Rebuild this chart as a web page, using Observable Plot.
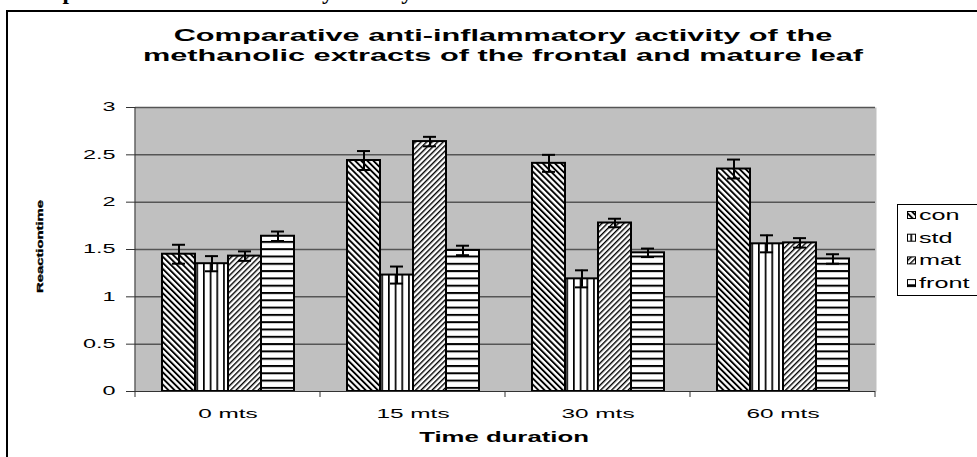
<!DOCTYPE html>
<html><head><meta charset="utf-8">
<script src="https://cdn.jsdelivr.net/npm/d3@7"></script>
<script src="https://cdn.jsdelivr.net/npm/@observablehq/plot@0.6"></script>
<style>
html,body{margin:0;padding:0;background:#fff;}
#wrap{position:relative;width:977px;height:457px;overflow:hidden;font-family:Arial,"Liberation Sans",sans-serif;}
#wrap > svg{position:absolute;left:0;top:0;}
#overlay{pointer-events:none;}
</style></head><body><div id="wrap"></div>
<script>
// ---- data ----
const times = ["0 mts", "15 mts", "30 mts", "60 mts"];
const series = ["con", "std", "mat", "front"];
const con = [1.45, 2.44, 2.41, 2.35];
const std = [1.35, 1.23, 1.19, 1.56];
const mat = [1.43, 2.64, 1.78, 1.57];
const front = [1.64, 1.49, 1.465, 1.40];
const conErr = [0.10, 0.10, 0.09, 0.10];
const stdErr = [0.08, 0.09, 0.09, 0.09];
const matErr = [0.05, 0.05, 0.045, 0.05];
const frontErr = [0.05, 0.05, 0.045, 0.05];
const yTicks = [0, 0.5, 1, 1.5, 2, 2.5, 3];
const titleLines = ["Comparative anti-inflammatory activity of the", "methanolic extracts of the frontal and mature leaf"];
const topCaption = "Fig. 1: Comparative anti-inflammatory activity of the methanolic extracts of the frontal and mature leaf";
const yLabel = "Reactiontime";
const xLabel = "Time duration";

const values = {con, std, mat, front};
const errors = {con: conErr, std: stdErr, mat: matErr, front: frontErr};
const data = [];
times.forEach((t, i) => series.forEach(s => data.push({time: t, series: s, value: values[s][i], err: errors[s][i]})));

const SX = 1.95; // horizontal stretch of the reference's text
const FONT = "Arial, 'Liberation Sans', sans-serif";

const plot = Plot.plot({
  width: 977, height: 457,
  marginLeft: 133, marginRight: 101, marginTop: 107, marginBottom: 66,
  style: {background: "transparent", fontFamily: FONT, color: "#000", overflow: "visible"},
  fx: {domain: times, padding: 0, label: null, axis: null},
  x: {domain: series, paddingInner: 0, paddingOuter: 0.78, axis: null},
  y: {domain: [0, 3], axis: null},
  color: {domain: series, range: series.map(s => `url(#pat-${s})`)},
  marks: [
    Plot.frame({fill: "#c0c0c0", stroke: "none", insetLeft: -1, insetRight: -1}),
    Plot.ruleY(yTicks.filter(d => d > 0), {stroke: "#555", strokeWidth: 1.5}),
    Plot.barY(data, {fx: "time", x: "series", y: "value", fill: "series", stroke: "#000", strokeWidth: 2}),
    Plot.ruleX(data, {fx: "time", x: "series", y1: d => d.value - d.err, y2: d => d.value + d.err, stroke: "#000", strokeWidth: 2}),
    Plot.tickY(data, {fx: "time", x: "series", y: d => d.value + d.err, stroke: "#000", strokeWidth: 2, insetLeft: 10, insetRight: 10}),
    Plot.tickY(data, {fx: "time", x: "series", y: d => d.value - d.err, stroke: "#000", strokeWidth: 2, insetLeft: 10, insetRight: 10}),
    Plot.ruleY([0], {stroke: "#333", strokeWidth: 1}),
    Plot.axisY({anchor: "left", ticks: yTicks, tickFormat: d3.format("~g"), tickSize: 9, tickPadding: 11, fontSize: 12, label: null, stroke: "#333"}),
    Plot.axisFx({anchor: "bottom", tickSize: 0, tickPadding: 18, fontSize: 12.5, label: null})
  ]
});
document.getElementById("wrap").appendChild(plot);

// patterns
const svg = d3.select(plot);
const defs = svg.insert("defs", ":first-child");
function stripe(id, angle, size, w) {
  const p = defs.append("pattern").attr("id", id).attr("patternUnits", "userSpaceOnUse")
    .attr("width", size).attr("height", size).attr("patternTransform", `rotate(${angle})`);
  p.append("rect").attr("width", size).attr("height", size).attr("fill", "#fff");
  p.append("rect").attr("x", 0).attr("y", 0).attr("width", w).attr("height", size).attr("fill", "#000");
}
stripe("pat-con", -45, 4.3, 1.9);
stripe("pat-std", 0, 6.7, 1.7);
stripe("pat-mat", 45, 3.9, 1.4);
stripe("pat-front", 90, 7.3, 2);

// stretch axis text horizontally like the reference
plot.querySelectorAll('g[aria-label="y-axis tick label"] text, g[aria-label="fx-axis tick label"] text').forEach(t => {
  let tr = t.getAttribute("transform");
  if (!tr) {
    const x = +t.getAttribute("x") || 0, y = +t.getAttribute("y") || 0;
    t.removeAttribute("x"); t.removeAttribute("y");
    tr = `translate(${x},${y})`;
  }
  t.setAttribute("transform", tr + ` scale(${SX},1)`);
});

// category boundary ticks and left axis line, from the library's scales
const fx = plot.scale("fx"), ys = plot.scale("y");
const y0 = ys.apply(0), y3 = ys.apply(3);
const edges = times.map(t => fx.apply(t)).concat([fx.apply(times[times.length - 1]) + fx.bandwidth]);
const g = svg.append("g");
edges.forEach(e => g.append("line").attr("x1", e).attr("x2", e).attr("y1", y0).attr("y2", y0 + 6).attr("stroke", "#333"));
g.append("line").attr("x1", edges[0]).attr("x2", edges[0]).attr("y1", y3).attr("y2", y0).attr("stroke", "#333");

// overlay: border, titles, axis titles, legend
const W = 977, H = 457;
const ov = d3.select("#wrap").append("svg").attr("id", "overlay").attr("width", W).attr("height", H)
  .style("font-family", FONT);
ov.append("path").attr("d", "M7,470V11H990").attr("fill", "none").attr("stroke", "#000").attr("stroke-width", 2);
ov.append("text").text(topCaption).attr("transform", "translate(-54,-1.5) scale(1.16,1)")
  .attr("font-family", "'Liberation Serif','Times New Roman',serif").attr("font-weight", "bold").attr("font-size", 20);
titleLines.forEach((l, i) => ov.append("text").text(l)
  .attr("transform", `translate(503,${41 + i * 19.5}) scale(1.92,1)`)
  .attr("text-anchor", "middle").attr("font-weight", "bold").attr("font-size", 16));
ov.append("text").text(yLabel).attr("transform", "translate(40,246.5) rotate(-90) scale(1.56,1)")
  .attr("text-anchor", "middle").attr("dy", "0.36em").attr("font-weight", "bold").attr("font-size", 9.5)
  .attr("stroke", "#000").attr("stroke-width", 0.35);
ov.append("text").text(xLabel).attr("transform", "translate(504,441.7) scale(1.84,1)")
  .attr("text-anchor", "middle").attr("font-weight", "bold").attr("font-size", 14);

const lg = ov.append("g").attr("transform", "translate(897,204)");
lg.append("rect").attr("x", 0.5).attr("y", 0.5).attr("width", 110).attr("height", 91).attr("fill", "#fff").attr("stroke", "#000");
series.forEach((s, i) => {
  const cy = 11 + i * 22.7;
  lg.append("rect").attr("x", 10.5).attr("y", cy - 3.5).attr("width", 8).attr("height", 7)
    .attr("fill", `url(#pat-${s})`).attr("stroke", "#000").attr("stroke-width", 1);
  lg.append("text").text(s).attr("transform", `translate(22,${cy}) scale(1.8,1)`)
    .attr("dy", "0.35em").attr("font-size", 14);
});
</script></body></html>
